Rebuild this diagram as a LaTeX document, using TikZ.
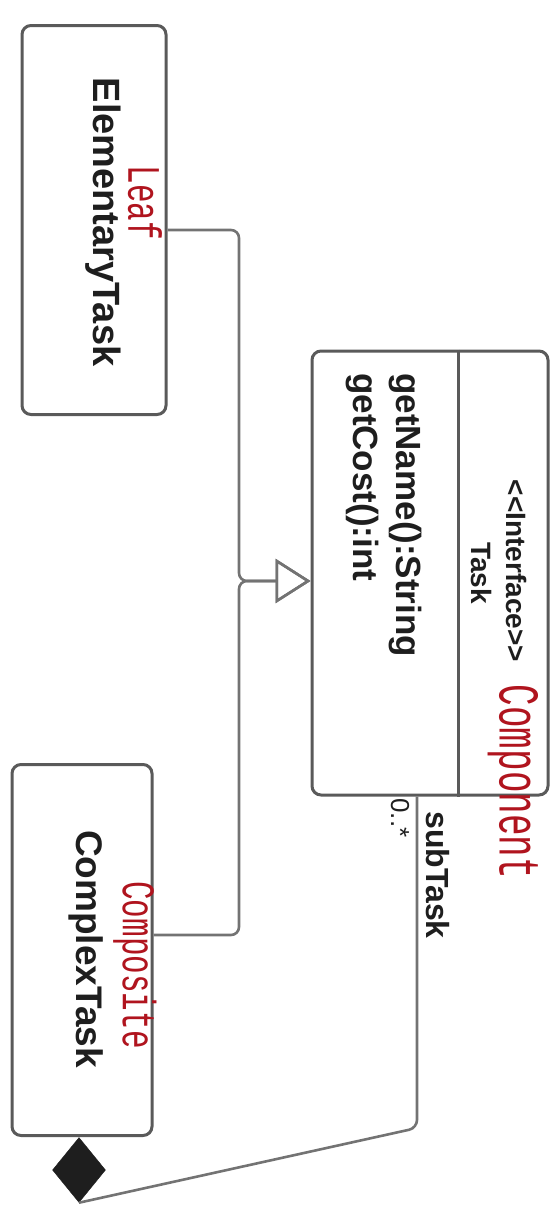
\documentclass[tikz,border=0pt]{standalone}
\usepackage{fontspec}
\setmainfont{Liberation Sans}
\newfontfamily\handfont{Liberation Mono}
\usetikzlibrary{arrows.meta,shapes.geometric,calc}
\definecolor{edge}{HTML}{5A5A5A}
\definecolor{ink}{HTML}{1E1E1E}
\definecolor{pen}{HTML}{B0141E}
\begin{document}
\begin{tikzpicture}[x=1pt,y=-1pt,
  classbox/.style={draw=edge, line width=3pt, rounded corners=9pt, fill=white, inner sep=0pt},
  vtext/.style={rotate=-90, text=ink, inner sep=0pt},
  conn/.style={draw=edge!85, line width=2.6pt, rounded corners=8pt},
  realize/.style={-{Triangle[open, length=35pt, width=44pt, line width=2.6pt]}},
  note/.style={rotate=-90, text=pen, inner sep=0pt}]
\useasboundingbox (0,0) rectangle (554,1226);

% class boxes
\node[classbox, minimum width=144pt, minimum height=389pt] (elem) at (94,220) {};
\node[classbox, minimum width=236pt, minimum height=444pt] (task) at (430,573) {};
\node[classbox, minimum width=140pt, minimum height=371pt] (comp) at (82,950) {};
\coordinate (sep) at (458,0);
\draw[draw=edge, line width=3pt] (sep |- task.north) -- (sep |- task.south);

% class names and operations (diagram is turned a quarter clockwise)
\node[vtext, font=\bfseries\fontsize{38}{40}\selectfont] (elemname) at (103,222) {ElementaryTask};
\node[vtext, font=\bfseries\fontsize{37}{40}\selectfont] (compname) at (86,949) {ComplexTask};
\node[vtext, font=\bfseries\fontsize{28}{32}\selectfont] (stereo) at (517,571) {<{}<Interface>{}>};
\node[vtext, font=\bfseries\fontsize{28}{30}\selectfont] (tname) at (482,573) {Task};
\node[vtext, anchor=west, font=\bfseries\fontsize{35}{38}\selectfont] (opname) at (405,373) {getName():String};
\node[vtext, anchor=west, font=\bfseries\fontsize{35}{38}\selectfont] (opcost) at (362,373) {getCost():int};

% realization connectors
\coordinate (jn) at (239,581);
\draw[conn, realize] ([yshift=-10pt]elem.east) -| (jn) -- (jn -| task.west);
\draw[conn, realize] ([yshift=15pt]comp.east) -| (jn) -- (jn -| task.west);

% composition
\node[diamond, fill=ink, draw=ink, minimum width=53pt, minimum height=65pt, inner sep=0pt] (dia) at (79,1170) {};
\coordinate (bend) at (417,1128);
\draw[conn] (dia.south) -- (bend) -- (bend |- task.south);
\node[vtext, font=\bfseries\fontsize{32}{34}\selectfont] (role) at (438,875) {subTask};
\node[vtext, font=\fontsize{26}{28}\selectfont] (mult) at (400,818) {0..*};

% handwritten notes
\node[note, font=\handfont\fontsize{31}{33}\selectfont] (leafnote) at (145,203) {\scalebox{1}[1.5]{Leaf}};
\node[note, font=\handfont\fontsize{36}{38}\selectfont] (compnote) at (513,782) {\scalebox{1}[1.6]{Component}};
\node[note, font=\handfont\fontsize{31}{33}\selectfont] (cmpsnote) at (135,965) {\scalebox{1}[1.5]{Composite}};
\end{tikzpicture}
\end{document}
